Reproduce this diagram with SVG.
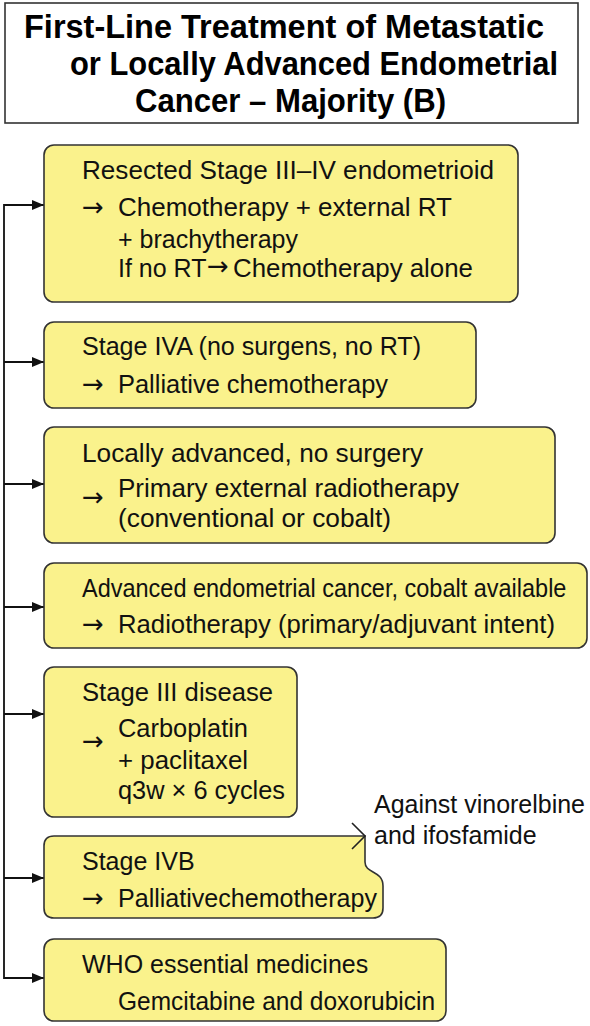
<svg xmlns="http://www.w3.org/2000/svg" width="590" height="1026" viewBox="0 0 590 1026">
<defs>
<marker id="ah" markerWidth="12" markerHeight="10" refX="12" refY="5" orient="auto" markerUnits="userSpaceOnUse">
<path d="M0,0 L12,5 L0,10 z" fill="#111"/>
</marker>
<style>
.box{fill:#FAF28C;stroke:#333;stroke-width:1.6}
.t{font-family:"Liberation Sans",Arial,sans-serif;font-size:25px;fill:#111}
.a{font-family:"DejaVu Sans",sans-serif;font-size:26px;fill:#111}
.h{font-family:"Liberation Sans",Arial,sans-serif;font-size:33px;font-weight:bold;fill:#000}
.c{fill:none;stroke:#111;stroke-width:1.8}
</style>
</defs>
<rect width="590" height="1026" fill="#fff"/>
<g id="title">
<rect x="5" y="3" width="573" height="120" fill="#fff" stroke="#333" stroke-width="1.6"/>
<text class="h" x="24" y="38" textLength="520" lengthAdjust="spacingAndGlyphs">First-Line Treatment of  Metastatic</text>
<text class="h" x="70" y="75" textLength="488" lengthAdjust="spacingAndGlyphs">or Locally Advanced Endometrial</text>
<text class="h" x="135" y="112" textLength="311" lengthAdjust="spacingAndGlyphs">Cancer – Majority (B)</text>
</g>
<g id="connectors">
<polyline class="c" points="44,205 4,205 4,978 44,978" marker-end="url(#ah)"/>
<line class="c" x1="4" y1="205" x2="44" y2="205" marker-end="url(#ah)"/>
<line class="c" x1="4" y1="362" x2="44" y2="362" marker-end="url(#ah)"/>
<line class="c" x1="4" y1="484" x2="44" y2="484" marker-end="url(#ah)"/>
<line class="c" x1="4" y1="607" x2="44" y2="607" marker-end="url(#ah)"/>
<line class="c" x1="4" y1="714" x2="44" y2="714" marker-end="url(#ah)"/>
<line class="c" x1="4" y1="878" x2="44" y2="878" marker-end="url(#ah)"/>
</g>
<g id="node1">
<rect class="box" x="44" y="145" width="474" height="157" rx="10"/>
<text class="t" x="82" y="179" textLength="412" lengthAdjust="spacingAndGlyphs">Resected Stage III–IV endometrioid</text>
<text class="a" x="82" y="216">→</text>
<text class="t" x="118" y="216" textLength="334" lengthAdjust="spacingAndGlyphs">Chemotherapy + external RT</text>
<text class="t" x="118" y="248">+ brachytherapy</text>
<text class="t" x="118" y="277">If no RT</text>
<text class="a" x="207" y="275" font-size="21">→</text>
<text class="t" x="233" y="277" textLength="240" lengthAdjust="spacingAndGlyphs">Chemotherapy alone</text>
</g>
<g id="node2">
<rect class="box" x="44" y="322" width="432" height="86" rx="10"/>
<text class="t" x="82" y="355" textLength="339" lengthAdjust="spacingAndGlyphs">Stage IVA (no surgens, no RT)</text>
<text class="a" x="82" y="393">→</text>
<text class="t" x="118" y="393" textLength="270" lengthAdjust="spacingAndGlyphs">Palliative chemotherapy</text>
</g>
<g id="node3">
<rect class="box" x="44" y="427" width="511" height="116" rx="10"/>
<text class="t" x="82" y="462" textLength="341" lengthAdjust="spacingAndGlyphs">Locally advanced, no surgery</text>
<text class="a" x="82" y="506">→</text>
<text class="t" x="118" y="497" textLength="341" lengthAdjust="spacingAndGlyphs">Primary external radiotherapy</text>
<text class="t" x="118" y="527" textLength="273" lengthAdjust="spacingAndGlyphs">(conventional or cobalt)</text>
</g>
<g id="node4">
<rect class="box" x="44" y="563" width="543" height="85" rx="10"/>
<text class="t" transform="translate(82,597) scale(0.94,1)">Advanced endometrial cancer, cobalt available</text>
<text class="a" x="82" y="633">→</text>
<text class="t" x="118" y="633" textLength="437" lengthAdjust="spacingAndGlyphs">Radiotherapy (primary/adjuvant intent)</text>
</g>
<g id="node5">
<rect class="box" x="44" y="667" width="253" height="150" rx="10"/>
<text class="t" x="82" y="701" textLength="191" lengthAdjust="spacingAndGlyphs">Stage III disease</text>
<text class="a" x="82" y="750">→</text>
<text class="t" x="118" y="737" textLength="130" lengthAdjust="spacingAndGlyphs">Carboplatin</text>
<text class="t" x="118" y="769" textLength="130" lengthAdjust="spacingAndGlyphs">+ paclitaxel</text>
<text class="t" x="118" y="799" textLength="167" lengthAdjust="spacingAndGlyphs">q3w × 6 cycles</text>
</g>
<g id="node6">
<path class="box" d="M54,836 H365 V862 C365,874 383,870 383,886 V908 Q383,918 373,918 H54 Q44,918 44,908 V846 Q44,836 54,836 Z"/>
<polyline points="352,823 365,836 352,849" fill="none" stroke="#222" stroke-width="1.6"/>
<text class="t" x="82" y="870">Stage IVB</text>
<text class="a" x="82" y="907">→</text>
<text class="t" x="118" y="907" textLength="259" lengthAdjust="spacingAndGlyphs">Palliativechemotherapy</text>
</g>
<g id="note">
<text class="t" x="374" y="813" textLength="211" lengthAdjust="spacingAndGlyphs">Against vinorelbine</text>
<text class="t" x="374" y="844">and ifosfamide</text>
</g>
<g id="node7">
<rect class="box" x="44" y="939" width="402" height="82" rx="10"/>
<text class="t" x="82" y="973">WHO essential medicines</text>
<text class="t" x="118" y="1010" textLength="317" lengthAdjust="spacingAndGlyphs">Gemcitabine and doxorubicin</text>
</g>
</svg>
